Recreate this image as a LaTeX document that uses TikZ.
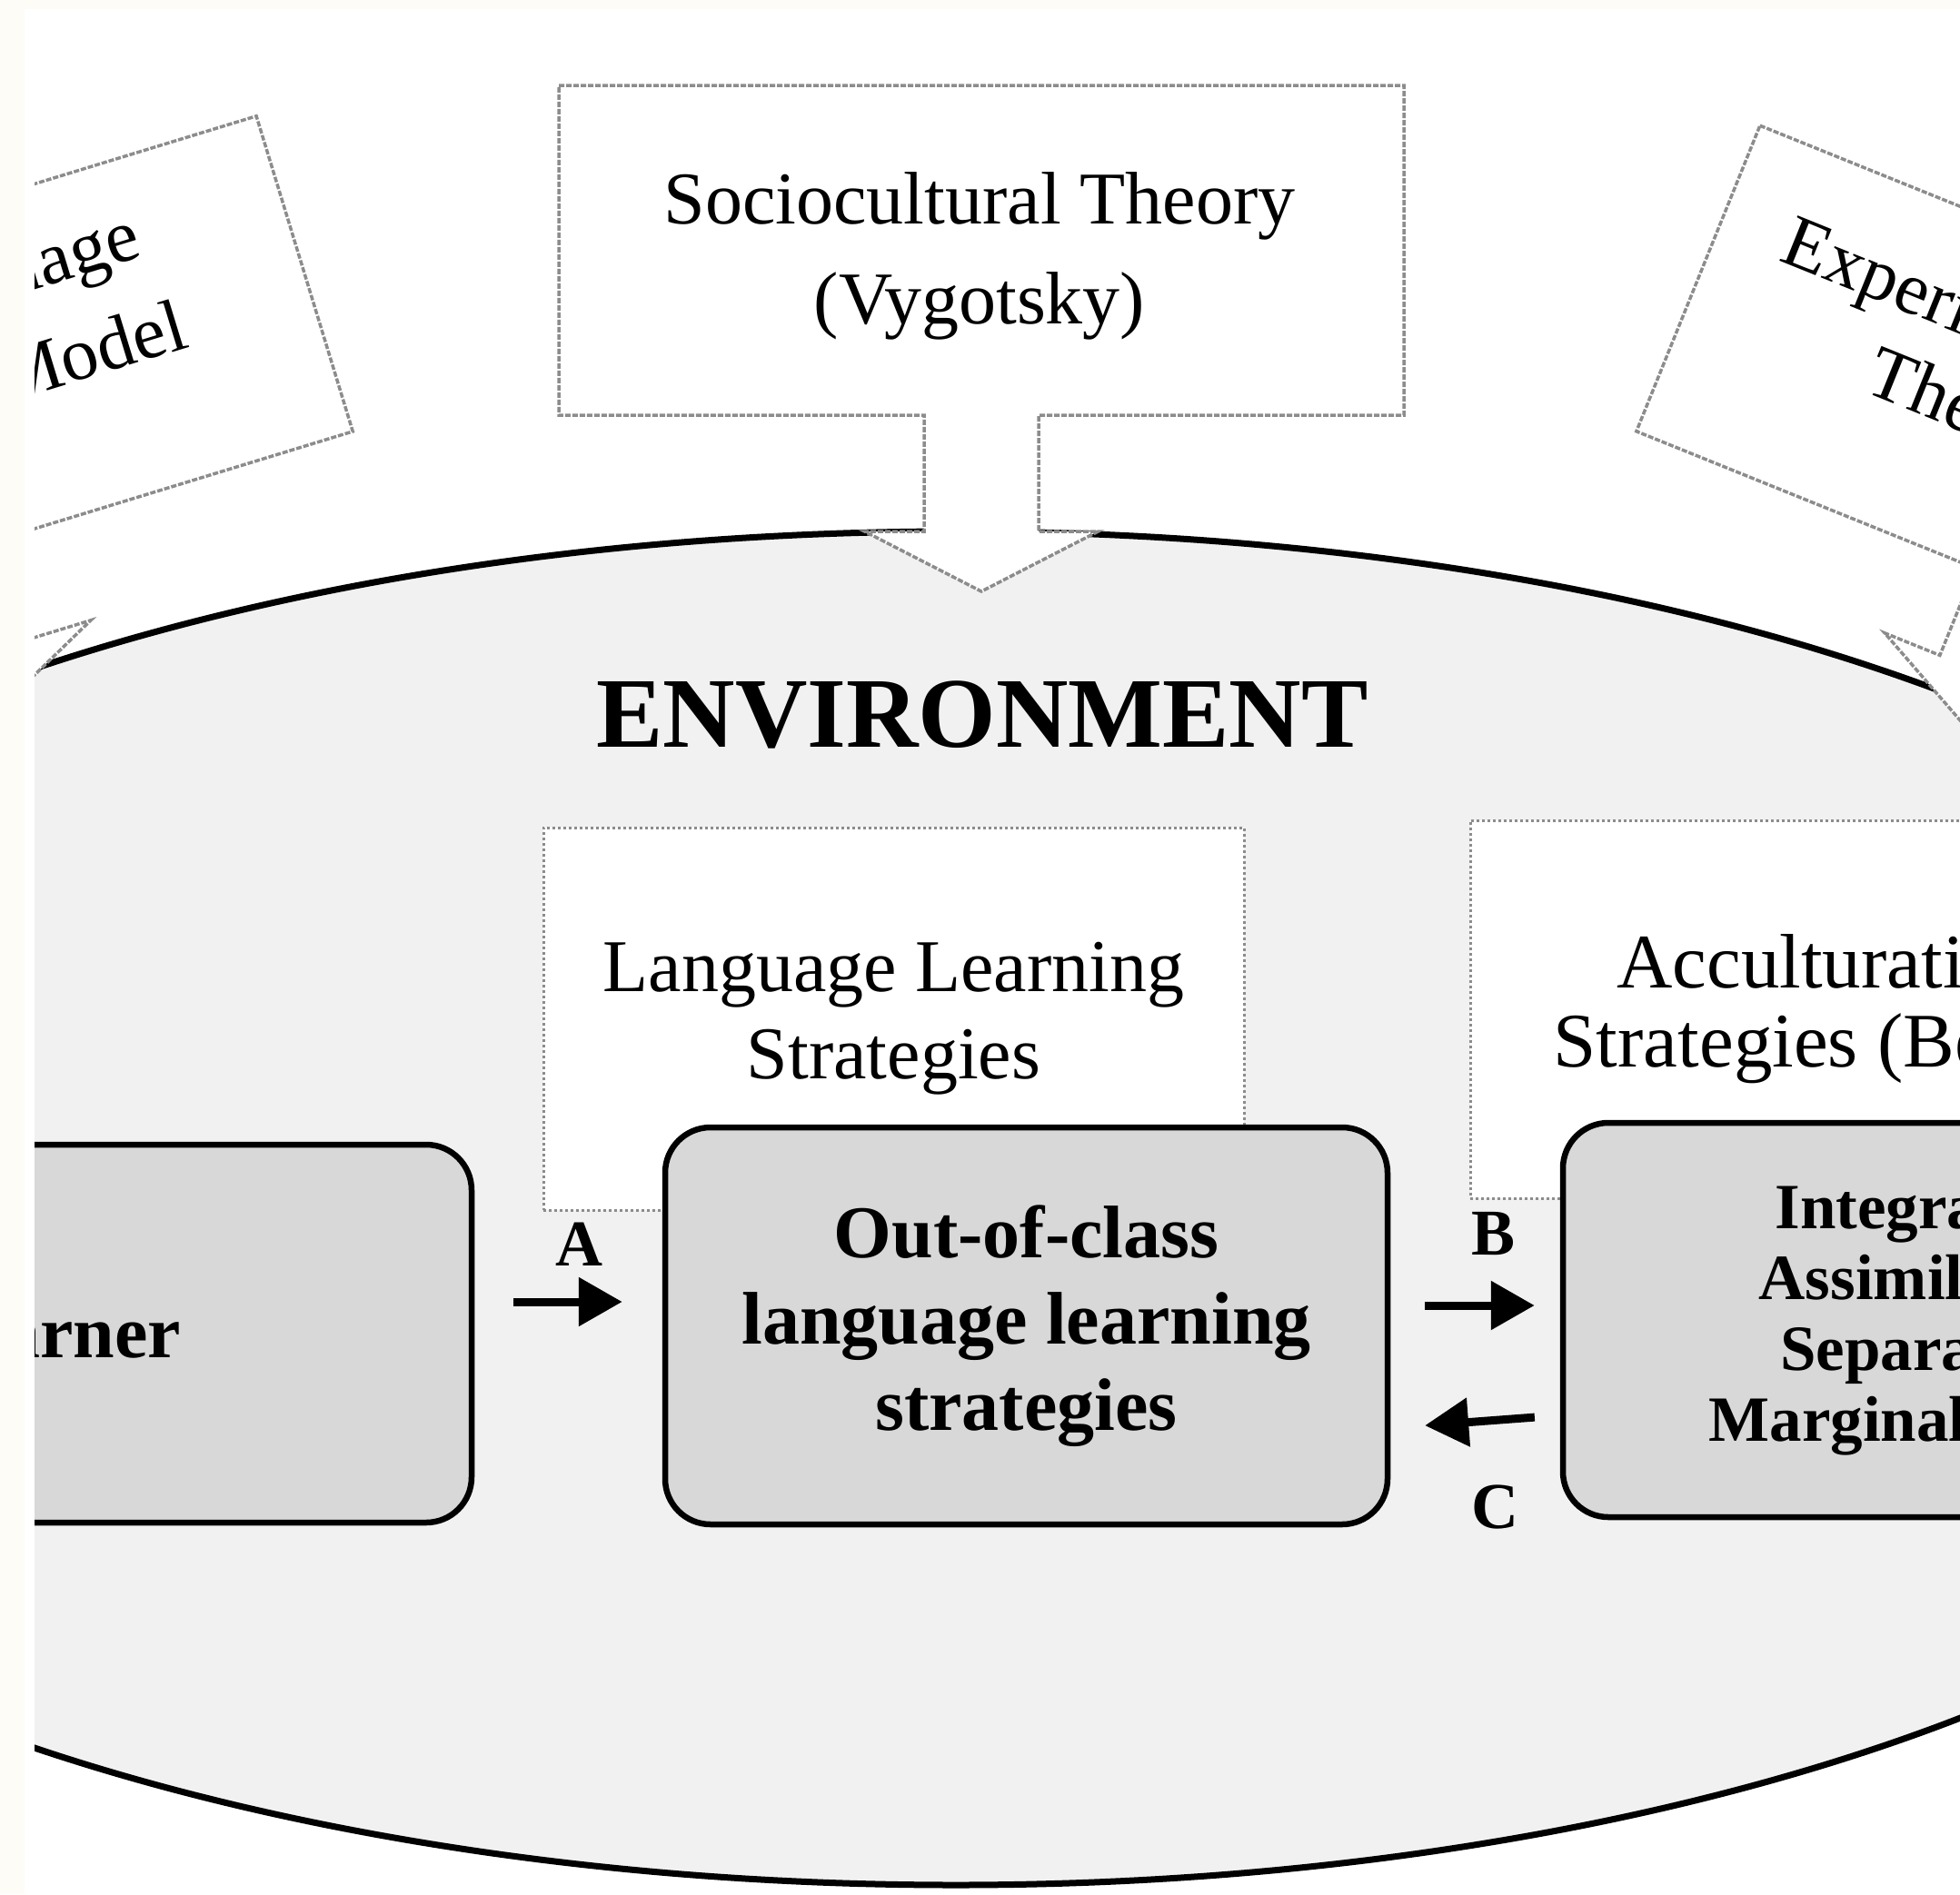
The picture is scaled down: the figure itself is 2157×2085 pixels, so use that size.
\documentclass[tikz,border=0pt]{standalone}
\usepackage{fontspec}
\setmainfont{Liberation Serif}
\usetikzlibrary{arrows.meta}

\definecolor{envgray}{HTML}{F1F1F1}
\definecolor{boxgray}{HTML}{D8D8D8}
\definecolor{framecream}{HTML}{FDFCF7}

% outline of a theory balloon, #1 = depth of the pointer shoulder
\newcommand{\balloon}[1]{(-465,-181.5) -- (465,-181.5) -- (465,181.5) -- (63,181.5) -- (63,#1) -- (128.5,#1) -- (0,#1+66) -- (-128.5,#1) -- (-63,#1) -- (-63,181.5) -- (-465,181.5) -- cycle}

\begin{document}
\begin{tikzpicture}[x=1pt, y=-1pt,
  theory/.style={draw=black!45, line width=3.5pt, fill=white, dash pattern=on 6pt off 2pt},
  theorytext/.style={font=\fontsize{82}{110}\selectfont, inner sep=0pt},
  strat/.style={draw=black!45, line width=3pt, fill=white, dash pattern=on 3pt off 3pt, minimum width=771pt, minimum height=421pt, align=center, font=\fontsize{82}{96}\selectfont},
  stage/.style={draw=black, line width=6.5pt, fill=boxgray, rounded corners=50pt, align=center, font=\bfseries\fontsize{82}{95}\selectfont},
  flow/.style={line width=9pt, -{Triangle[length=48pt,width=52pt]}},
  lbl/.style={font=\bfseries\fontsize{72}{72}\selectfont, inner sep=0pt}]

    \useasboundingbox (0,0) rectangle (2157,2085);
    \fill[framecream] (0,0) rectangle (2157,2085);
    \fill[white] (27,10) rectangle (2157,2085);

    \begin{scope}
    \clip (38,15) rectangle (2157,2085);

    % environment
    \draw[fill=envgray, line width=7pt] (1052,1330) ellipse [x radius=1680, y radius=745];

    % theories
    \begin{scope}[shift={(1080,275.5)}]
        \draw[theory] \balloon{309.5};
        \node[theorytext, align=center] (socio) at (-2,6.5) {Sociocultural Theory\\(Vygotsky)};
    \end{scope}
    \begin{scope}[shift={(-109.5,437.3)}, rotate=17]
        \draw[theory] \balloon{296};
        \node[theorytext, rotate=17, anchor=east] (model1) at (302,-88) {Language};
        \node[theorytext, rotate=17, anchor=east] (model2) at (322,12) {Model};
    \end{scope}
    \begin{scope}[shift={(2300,480.7)}, rotate=-22]
        \draw[theory] \balloon{285};
        \node[theorytext, rotate=-22, anchor=west] (exper1) at (-391,-71) {Experiential};
        \node[theorytext, rotate=-22, anchor=west] (exper2) at (-251,28) {Theory};
    \end{scope}

    \node[font=\bfseries\fontsize{110}{110}\selectfont] (env) at (1081,787) {ENVIRONMENT};

    % strategies
    \node[strat] (lls) at (983.5,1121.5) {Language Learning\\Strategies};
    \node[strat, minimum width=790pt, minimum height=416pt, font=\fontsize{85}{87}\selectfont] (accstrat) at (2013,1111) {Acculturation\\Strategies (Berry)};

    \node[stage, minimum width=927pt, minimum height=416pt] (learner) at (55.5,1468) {Learner};
    \node[stage, minimum width=795pt, minimum height=437pt] (ooc) at (1129.5,1459.5) {Out-of-class\\language learning\\strategies};
    \node[stage, minimum width=810pt, minimum height=434pt, font=\bfseries\fontsize{71}{78}\selectfont] (outcome) at (2125,1453) {Integration\\Assimilation\\Separation\\Marginalization};

    % links
    \draw[flow, shorten <=43pt, shorten >=44pt] ([yshift=35pt]learner.east) -- ([yshift=35pt]learner.east -| ooc.west);
    \draw[flow, shorten <=38pt, shorten >=28pt] ([yshift=22.5pt]ooc.east) -- ([yshift=22.5pt]ooc.east -| outcome.west);
    \draw[flow, shorten <=28pt, shorten >=38pt] ([yshift=-105pt]outcome.west) -- ([yshift=-112.5pt]ooc.east);
    \node[lbl] (labA) at (637,1370) {A};
    \node[lbl] (labB) at (1643,1358) {B};
    \node[lbl] (labC) at (1645,1659) {C};
    \end{scope}

\end{tikzpicture}
\end{document}
